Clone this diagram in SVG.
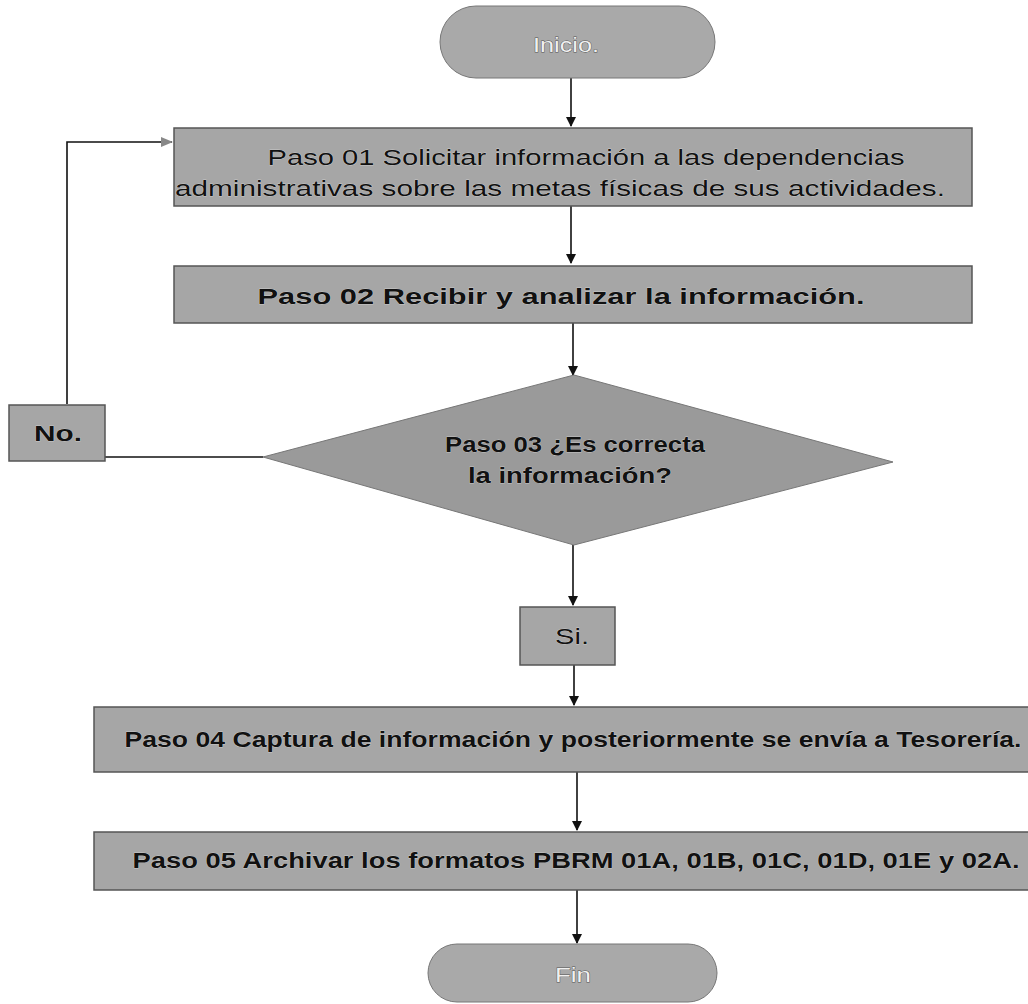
<svg xmlns="http://www.w3.org/2000/svg" width="1028" height="1004" viewBox="0 0 1028 1004">
<defs>
<marker id="ah" markerWidth="10" markerHeight="10" refX="9" refY="5" orient="auto" markerUnits="userSpaceOnUse">
<path d="M0,0 L10,5 L0,10 z" fill="#111"/>
</marker>
<marker id="ah2" markerWidth="12" markerHeight="10" refX="11" refY="5" orient="auto" markerUnits="userSpaceOnUse">
<path d="M0,0 L12,5 L0,10 z" fill="#888"/>
</marker>
</defs>
<style>
.box{fill:#a6a6a6;stroke:#555;stroke-width:1.5}
.term{fill:#a9a9a9;stroke:#777;stroke-width:1}
.dia{fill:#9a9a9a;stroke:#777;stroke-width:1}
.t{font-family:"Liberation Sans",Arial,sans-serif;font-size:22px;fill:#111;text-anchor:middle;stroke:#e8e8e8;stroke-width:0.4;paint-order:stroke}
.b{font-weight:bold}
.tl{font-family:"Liberation Sans",Arial,sans-serif;font-size:20px;fill:#f0f0f0;text-anchor:middle;stroke:#555;stroke-width:0.8;paint-order:stroke}
.c{fill:none;stroke:#111;stroke-width:1.6}
</style>
<rect width="1028" height="1004" fill="#fff"/>
<g id="connectors">
<line class="c" x1="571" y1="78" x2="571" y2="126" marker-end="url(#ah)"/>
<line class="c" x1="571" y1="206" x2="571" y2="263" marker-end="url(#ah)"/>
<line class="c" x1="573" y1="323" x2="573" y2="375" marker-end="url(#ah)"/>
<line class="c" x1="105" y1="457" x2="263" y2="457"/>
<polyline class="c" points="67,404 67,142 172,142" marker-end="url(#ah2)"/>
<line class="c" x1="573" y1="545" x2="573" y2="605" marker-end="url(#ah)"/>
<line class="c" x1="574" y1="665" x2="574" y2="705" marker-end="url(#ah)"/>
<line class="c" x1="577" y1="772" x2="577" y2="830" marker-end="url(#ah)"/>
<line class="c" x1="577" y1="890" x2="577" y2="943" marker-end="url(#ah)"/>
</g>
<g id="inicio">
<rect class="term" x="440" y="6" width="275" height="72" rx="36" ry="36"/>
<text class="tl" x="566" y="52" textLength="66" lengthAdjust="spacingAndGlyphs">Inicio.</text>
</g>
<g id="paso01">
<rect class="box" x="174" y="128" width="798" height="78"/>
<text class="t" x="586" y="165" textLength="637" lengthAdjust="spacingAndGlyphs">Paso 01 Solicitar información a las dependencias</text>
<text class="t" x="560" y="196" textLength="770" lengthAdjust="spacingAndGlyphs">administrativas sobre las metas físicas de sus actividades.</text>
</g>
<g id="paso02">
<rect class="box" x="174" y="266" width="798" height="57"/>
<text class="t b" x="561" y="304" textLength="607" lengthAdjust="spacingAndGlyphs">Paso 02 Recibir y analizar la información.</text>
</g>
<g id="paso03">
<polygon class="dia" points="574,375 893,462 574,545 263,457"/>
<text class="t b" x="575" y="452" textLength="260" lengthAdjust="spacingAndGlyphs">Paso 03 ¿Es correcta</text>
<text class="t b" x="570" y="483" textLength="204" lengthAdjust="spacingAndGlyphs">la información?</text>
</g>
<g id="no">
<rect class="box" x="9" y="405" width="96" height="56"/>
<text class="t b" x="58" y="441" textLength="48" lengthAdjust="spacingAndGlyphs">No.</text>
</g>
<g id="si">
<rect class="box" x="520" y="607" width="95" height="58"/>
<text class="t" x="572" y="644" textLength="34" lengthAdjust="spacingAndGlyphs">Si.</text>
</g>
<g id="paso04">
<rect class="box" x="94" y="707" width="940" height="65"/>
<text class="t b" x="573" y="747" textLength="897" lengthAdjust="spacingAndGlyphs">Paso 04 Captura de información y posteriormente se envía a Tesorería.</text>
</g>
<g id="paso05">
<rect class="box" x="94" y="832" width="940" height="58"/>
<text class="t b" x="576" y="868" textLength="887" lengthAdjust="spacingAndGlyphs">Paso 05 Archivar los formatos PBRM 01A, 01B, 01C, 01D, 01E y 02A.</text>
</g>
<g id="fin">
<rect class="term" x="428" y="944" width="289" height="58" rx="29" ry="29"/>
<text class="tl" x="573" y="982" textLength="36" lengthAdjust="spacingAndGlyphs">Fin</text>
</g>
</svg>
